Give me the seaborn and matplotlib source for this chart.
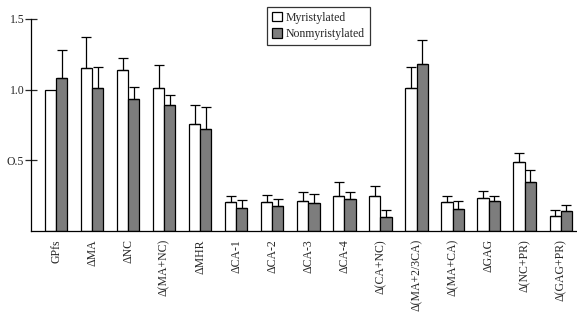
import numpy as np
import pandas as pd
import matplotlib
matplotlib.use('Agg')
import matplotlib.pyplot as plt
import seaborn as sns

categories = ['GPfs', 'ΔMA', 'ΔNC', 'Δ(MA+NC)', 'ΔMHR', 'ΔCA-1', 'ΔCA-2', 'ΔCA-3',
              'ΔCA-4', 'Δ(CA+NC)', 'Δ(MA+2/3CA)', 'Δ(MA+CA)', 'ΔGAG', 'Δ(NC+PR)', 'Δ(GAG+PR)']
myr = [1.00, 1.155, 1.136, 1.014, 0.755, 0.205, 0.203, 0.212, 0.245, 0.250,
       1.014, 0.202, 0.236, 0.490, 0.107]
myr_sd = [0.0, 0.220, 0.085, 0.160, 0.134, 0.040, 0.054, 0.060, 0.100, 0.067,
          0.148, 0.048, 0.047, 0.062, 0.041]
nonmyr = [1.080, 1.010, 0.930, 0.888, 0.720, 0.162, 0.174, 0.198, 0.226, 0.098,
          1.179, 0.157, 0.210, 0.343, 0.143]
nonmyr_sd = [0.197, 0.150, 0.090, 0.076, 0.154, 0.059, 0.055, 0.062, 0.048, 0.047,
             0.173, 0.057, 0.040, 0.090, 0.040]
groups = ['Myristylated', 'Nonmyristylated']

sns.set_style('ticks')
plt.rcParams['font.family'] = ['Liberation Serif', 'DejaVu Serif']

df = pd.DataFrame({
    'construct': categories * 2,
    'value': myr + nonmyr,
    'group': [groups[0]] * len(categories) + [groups[1]] * len(categories),
})

fig = plt.figure(figsize=(5.77, 3.15), dpi=100)
ax = fig.add_axes([0.054, 0.267, 0.944, 0.673])

sns.barplot(data=df, x='construct', y='value', hue='group', hue_order=groups,
            palette={groups[0]: 'white', groups[1]: '#7d7d7d'},
            edgecolor='black', linewidth=0.9, width=0.62, errorbar=None, ax=ax)

# upward-only error bars on top of each bar
for container, sd in zip(ax.containers, [myr_sd, nonmyr_sd]):
    xs = np.array([p.get_x() + p.get_width() / 2 for p in container])
    hs = np.array([p.get_height() for p in container])
    sd = np.array(sd)
    m = sd > 0
    ax.errorbar(xs[m], hs[m], yerr=[np.zeros(m.sum()), sd[m]], fmt='none',
                ecolor='black', elinewidth=0.9, capsize=3.5, capthick=0.9)

ax.set_ylim(0, 1.5)
ax.set_xlim(-0.69, 14.42)
ax.set_yticks([0.5, 1.0, 1.5])
ax.set_yticklabels(['O.5', '1.0', '1.5'])
ax.tick_params(axis='y', direction='inout', length=8, width=0.9, labelsize=8.5, pad=1)
ax.tick_params(axis='x', length=0, labelsize=8.5, rotation=90, pad=6)
ax.set_xlabel('')
ax.set_ylabel('')
sns.despine(ax=ax)
for s in ['left', 'bottom']:
    ax.spines[s].set_linewidth(0.9)
    ax.spines[s].set_color('black')

handles, labels = ax.get_legend_handles_labels()
ax.legend_.remove()
leg = ax.legend(handles, labels, loc='upper left', bbox_to_anchor=(0.463, 0.978),
                bbox_transform=fig.transFigure, fontsize=8.5, frameon=True,
                fancybox=False, handlelength=0.9, handleheight=0.9,
                handletextpad=0.3, borderpad=0.4, labelspacing=0.35, borderaxespad=0)
leg.get_frame().set_edgecolor('black')
leg.get_frame().set_linewidth(0.9)

fig.savefig('out.png', dpi=100)
